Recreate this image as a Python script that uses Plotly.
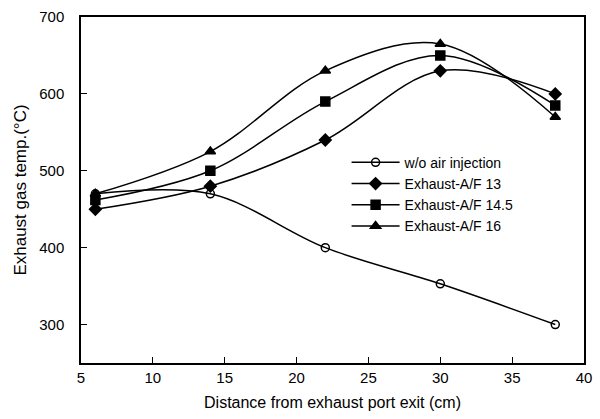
import plotly.graph_objects as go

distance = [6, 14, 22, 30, 38]
wo_air = [470, 470, 400, 353, 300]
af13 = [450, 480, 540, 630, 600]
af145 = [462, 500, 590, 650, 585]
af16 = [470, 525, 630, 665, 570]

series = [
    ("w/o air injection", wo_air, "circle-open"),
    ("Exhaust-A/F 13", af13, "diamond"),
    ("Exhaust-A/F 14.5", af145, "square"),
    ("Exhaust-A/F 16", af16, "triangle-up"),
]

fig = go.Figure()
for name, vals, sym in series:
    fig.add_trace(go.Scatter(
        x=distance, y=vals, name=name, mode="lines+markers",
        line=dict(color="black", width=1.5, shape="spline", smoothing=1.0),
        marker=dict(symbol=sym, size=9 if sym != "circle-open" else 8,
                    color="black", line=dict(color="black", width=1.5)),
    ))

font = "Liberation Sans, Arial, sans-serif"
fig.update_layout(
    width=600, height=419,
    margin=dict(l=81, r=8, t=17, b=56),
    paper_bgcolor="white", plot_bgcolor="white",
    font=dict(family=font, size=15, color="black"),
    showlegend=True,
    legend=dict(x=0.528, y=0.625, xanchor="left", yanchor="top",
                bgcolor="rgba(0,0,0,0)", font=dict(size=14),
                tracegroupgap=0, itemwidth=48),
    xaxis=dict(range=[5, 40], tickvals=[5, 10, 15, 20, 25, 30, 35, 40],
               ticks="inside", ticklen=6, tickcolor="black",
               showline=True, linecolor="black", linewidth=1.5, mirror=True,
               showgrid=False, zeroline=False, ticklabeloverflow="allow",
               title=dict(text="Distance from exhaust port exit (cm)", font=dict(size=16), standoff=12)),
    yaxis=dict(range=[250, 700], tickvals=[300, 400, 500, 600, 700],
               ticks="inside", ticklen=6, tickcolor="black",
               showline=True, linecolor="black", linewidth=1.5, mirror=True,
               showgrid=False, zeroline=False, ticklabelstandoff=12,
               title=dict(text="Exhaust gas temp.(°C)", font=dict(size=17), standoff=8)),
)

fig.write_html("out.html", config={"displayModeBar": False},
               post_script="document.body.style.margin='0';document.body.style.overflow='hidden';")
